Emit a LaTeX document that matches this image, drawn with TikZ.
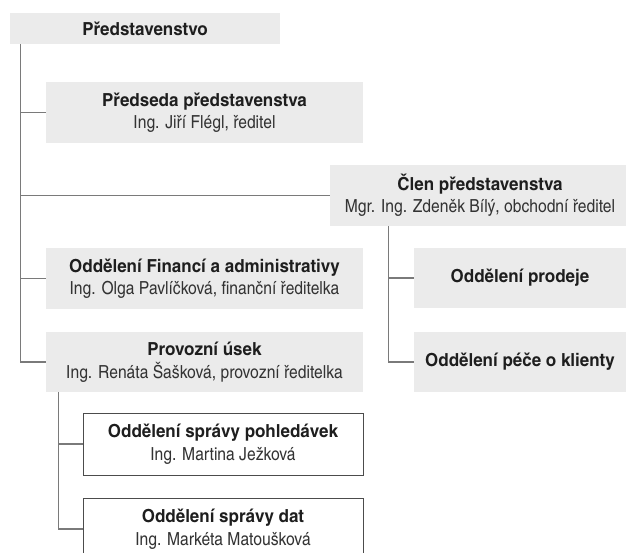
\documentclass[tikz,border=0pt]{standalone}
\usepackage{fontspec}
\setmainfont{texgyreheroscn}[Extension=.otf, UprightFont=*-regular, BoldFont=*-bold, UprightFeatures={FakeStretch=1.06}, BoldFeatures={FakeStretch=1.15}]
\usetikzlibrary{positioning}
\definecolor{unitGrey}{HTML}{EBEBEB}
\definecolor{lineGrey}{HTML}{7A7A7A}
\definecolor{textDark}{HTML}{1E1E1E}
\definecolor{textSoft}{HTML}{333333}
\tikzset{
    unitBox/.style={rectangle, fill=unitGrey, inner sep=0pt, align=center, text=textDark, font=\fontsize{18}{22.5}\selectfont},
    subBox/.style={rectangle, draw=black!70, fill=white, line width=1pt, inner sep=0pt, align=center, text=textDark, font=\fontsize{18}{22.5}\selectfont},
    orgLine/.style={draw=lineGrey, line width=1.2pt},
}
\newcommand{\unitText}[2]{\textbf{#1}\\{\color{textSoft}#2}}
\begin{document}
\begin{tikzpicture}[x=1pt, y=-1pt]
        \useasboundingbox (0,0) rectangle (626,553);
        \clip (0,0) rectangle (626,553);

        % boxes
        \node[unitBox, minimum width=270pt, minimum height=31pt] (board) at (145,28.5) {\textbf{Představenstvo}};
        \node[unitBox, minimum width=317pt, minimum height=61pt] (chair) at (204.5,112.5) {\unitText{Předseda představenstva}{Ing. Jiří Flégl, ředitel}};
        \node[unitBox, minimum width=300pt, minimum height=61pt] (member) at (480,195.5) {\unitText{Člen představenstva}{Mgr. Ing. Zdeněk Bílý, obchodní ředitel}};
        \node[unitBox, minimum width=317pt, minimum height=61pt] (finance) at (204.5,278.5) {\unitText{Oddělení Financí a administrativy}{Ing. Olga Pavlíčková, finanční ředitelka}};
        \node[unitBox, minimum width=317pt, minimum height=60pt] (operations) at (204.5,362) {\unitText{Provozní úsek}{Ing. Renáta Šašková, provozní ředitelka}};
        \node[unitBox, minimum width=212pt, minimum height=60pt] (sales) at (520,278) {\textbf{Oddělení prodeje}};
        \node[unitBox, minimum width=212pt, minimum height=60pt] (care) at (520,362) {\textbf{Oddělení péče o klienty}};
        \node[subBox, minimum width=280pt, minimum height=62pt] (claims) at (223,444) {\unitText{Oddělení správy pohledávek}{Ing. Martina Ježková}};
        \node[subBox, minimum width=280pt, minimum height=62pt] (data) at (223,529) {\unitText{Oddělení správy dat}{Ing. Markéta Matoušková}};

        % trunks
        \coordinate (boardTrunk) at ([xshift=10.5pt]board.south west);
        \coordinate (memberTrunk) at ([xshift=59pt]member.south west);
        \coordinate (opsTrunk) at ([xshift=12.5pt]operations.south west);

        \draw[orgLine] (boardTrunk) |- (chair.west);
        \draw[orgLine] (boardTrunk) |- (member.west);
        \draw[orgLine] (boardTrunk) |- (finance.west);
        \draw[orgLine] (boardTrunk) |- (operations.west);
        \draw[orgLine] (memberTrunk) |- (sales.west);
        \draw[orgLine] (memberTrunk) |- (care.west);
        \draw[orgLine] (opsTrunk) |- (claims.west);
        \draw[orgLine] (opsTrunk) |- (data.west);

    \end{tikzpicture}
\end{document}
